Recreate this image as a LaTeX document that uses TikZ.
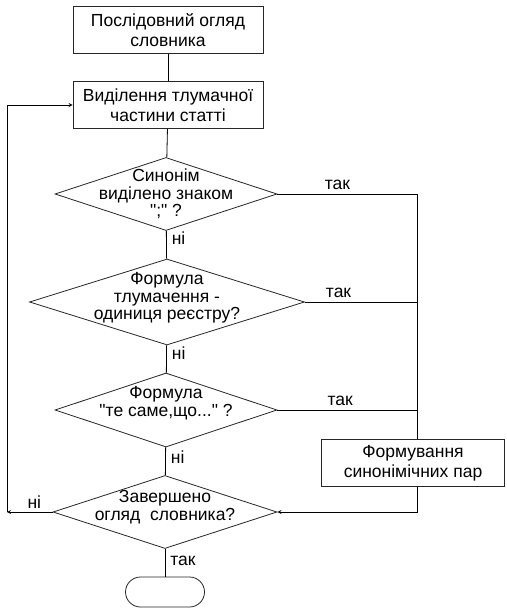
\documentclass[tikz,border=0pt]{standalone}
\usepackage{fontspec}
\setmainfont{Liberation Sans}
\usetikzlibrary{shapes.geometric}
\tikzset{
  blok/.style={draw=black!85, minimum width=190pt, minimum height=47pt, inner sep=0pt, align=center, font=\fontsize{17.5}{20}\selectfont},
  umova/.style={draw=black!85, diamond, inner sep=0pt},
  tekst/.style={align=center, inner sep=0pt, font=\fontsize{17.5}{17.5}\selectfont},
  mitka/.style={inner sep=0pt, font=\fontsize{17.5}{18}\selectfont},
}
\begin{document}
\begin{tikzpicture}[x=1pt, y=-1pt, line width=0.8pt]
        \useasboundingbox (0, 0) rectangle (506, 609);
        \node[blok] (ogliad) at (168, 30) {Послідовний огляд\\словника};
        \node[blok] (vydil) at (168, 105) {Виділення тлумачної\\частини статті};
        \node[umova, minimum width=222pt, minimum height=73pt] (d1) at (166, 194) {};
        \node[tekst] (t1) at (166, 194) {Синонім\\виділено знаком\\\textquotedbl;\textquotedbl\ ?};
        \node[umova, minimum width=275pt, minimum height=86pt] (d2) at (167, 302) {};
        \node[tekst] (t2) at (167, 298) {Формула\\тлумачення -\\одиниця реєстру?};
        \node[umova, minimum width=222pt, minimum height=74pt] (d3) at (166, 410) {};
        \node[tekst] (t3) at (166, 403) {Формула\\\textquotedbl те саме,що...\textquotedbl\ ?};
        \node[blok, minimum width=183pt] (para) at (413, 463) {Формування\\синонімічних пар};
        \node[umova, minimum width=224pt, minimum height=73pt] (d4) at (165, 512) {};
        \node[tekst] (t4) at (165, 507) {Завершено\\огляд\ \ словника?};
        \node[draw=black!85, rounded corners=15pt, minimum width=79pt, minimum height=30pt, inner sep=0pt] (kinets) at (165, 592) {};
        % zv'iazky
        \draw (ogliad) -- (vydil);
        \draw (vydil) -- (d1);
        \draw (d1) -- (d2) node[mitka, pos=0.25, right=5pt] {ні};
        \draw (d2) -- (d3) node[mitka, pos=0.3, right=5pt] {ні};
        \draw (d3) -- (d4) node[mitka, pos=0.35, right=5pt] {ні};
        \draw (d4) -- (kinets) node[mitka, pos=0.45, right=5pt] {так};
        \coordinate (prava) at (417, 194);
        \draw (d1.east) -- (prava) node[mitka, pos=0.43, above=4pt] {так};
        \draw (prava) -- (prava |- para.north);
        \draw (d2.east) -- (prava |- d2.east) node[mitka, pos=0.3, above=4pt] {так};
        \draw (d3.east) -- (prava |- d3.east) node[mitka, pos=0.45, above=4pt] {так};
        \draw[-stealth] (prava |- para.south) -- (prava |- d4.east) -- (d4.east);
        \coordinate (liva) at (7, 512);
        \draw[-stealth] (d4.west) -- (liva) node[mitka, pos=0.4, above=3pt] {ні};
        \draw[-stealth] (liva) -- (liva |- vydil.west) -- (vydil.west);
    \end{tikzpicture}
\end{document}
